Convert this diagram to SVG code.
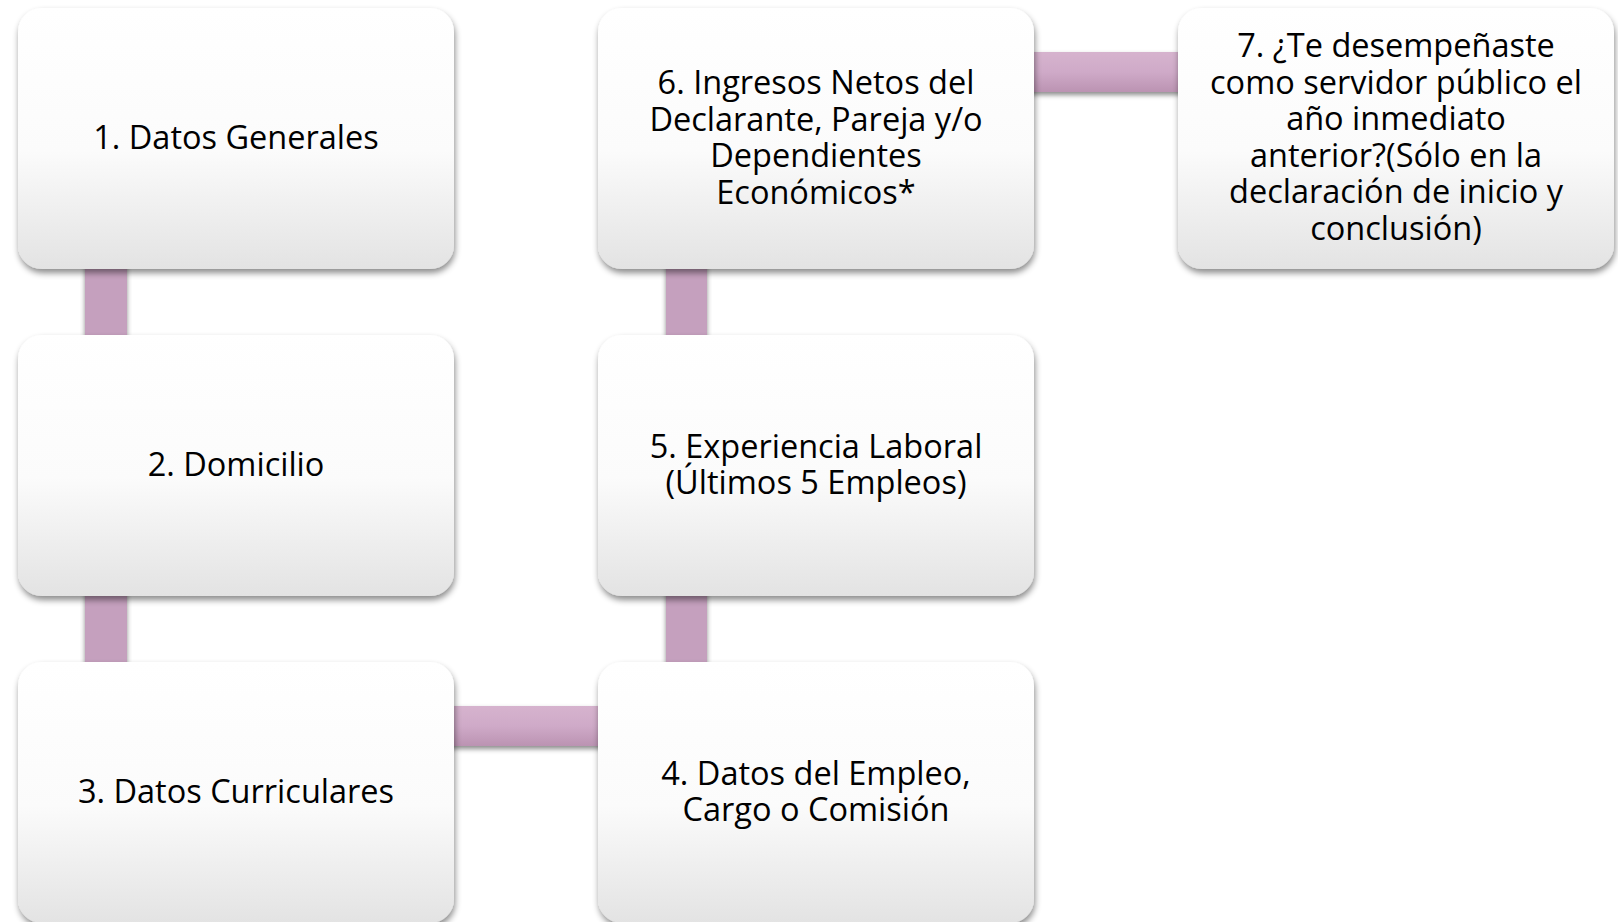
<svg xmlns="http://www.w3.org/2000/svg" width="1618" height="922" viewBox="0 0 1618 922">
<style>
.box{fill:url(#boxg);filter:url(#sh)}
.t{font-family:"Open Sans","Noto Sans","DejaVu Sans",sans-serif;font-size:32.5px;fill:#000;text-anchor:middle}
.v{fill:#c5a0be;filter:url(#sh2)}
.h{fill:url(#hg);filter:url(#sh2)}
</style>
<defs>
<linearGradient id="boxg" x1="0" y1="0" x2="0" y2="1">
<stop offset="0" stop-color="#ffffff"/>
<stop offset="0.55" stop-color="#fbfbfb"/>
<stop offset="1" stop-color="#e3e3e3"/>
</linearGradient>
<linearGradient id="hg" x1="0" y1="0" x2="0" y2="1">
<stop offset="0" stop-color="#d6b3ce"/>
<stop offset="0.5" stop-color="#cfaac8"/>
<stop offset="1" stop-color="#bb93b2"/>
</linearGradient>
<filter id="sh" x="-10%" y="-10%" width="120%" height="125%">
<feDropShadow dx="1" dy="4" stdDeviation="3" flood-color="#000" flood-opacity="0.45"/>
</filter>
<filter id="sh2" x="-10%" y="-20%" width="120%" height="160%">
<feDropShadow dx="0" dy="3" stdDeviation="2.5" flood-color="#000" flood-opacity="0.45"/>
</filter>
</defs>
<g id="connectors">
<rect class="v" x="85" y="262" width="42" height="80"/>
<rect class="v" x="85" y="589" width="42" height="80"/>
<rect class="h" x="446" y="706" width="160" height="40"/>
<rect class="v" x="666" y="589" width="41" height="80"/>
<rect class="v" x="666" y="262" width="41" height="80"/>
<rect class="h" x="1026" y="52" width="160" height="40"/>
</g>
<g id="node1">
<rect class="box" x="18" y="8" width="436" height="261" rx="24"/>
<text class="t" x="236" y="149">1. Datos Generales</text>
</g>
<g id="node2">
<rect class="box" x="18" y="335" width="436" height="261" rx="24"/>
<text class="t" x="236" y="476">2. Domicilio</text>
</g>
<g id="node3">
<rect class="box" x="18" y="662" width="436" height="261" rx="24"/>
<text class="t" x="236" y="803">3. Datos Curriculares</text>
</g>
<g id="node4">
<rect class="box" x="598" y="662" width="436" height="261" rx="24"/>
<text class="t" x="816" y="785">4. Datos del Empleo,<tspan x="816" dy="36">Cargo o Comisión</tspan></text>
</g>
<g id="node5">
<rect class="box" x="598" y="335" width="436" height="261" rx="24"/>
<text class="t" x="816" y="458">5. Experiencia Laboral<tspan x="816" dy="36">(Últimos 5 Empleos)</tspan></text>
</g>
<g id="node6">
<rect class="box" x="598" y="8" width="436" height="261" rx="24"/>
<text class="t" x="816" y="94">6. Ingresos Netos del<tspan x="816" dy="36.5">Declarante, Pareja y/o</tspan><tspan x="816" dy="36.5">Dependientes</tspan><tspan x="816" dy="36.5">Económicos*</tspan></text>
</g>
<g id="node7">
<rect class="box" x="1178" y="8" width="436" height="261" rx="24"/>
<text class="t" x="1396" y="57">7. ¿Te desempeñaste<tspan x="1396" dy="36.5">como servidor público el</tspan><tspan x="1396" dy="36.5">año inmediato</tspan><tspan x="1396" dy="36.5">anterior?(Sólo en la</tspan><tspan x="1396" dy="36.5">declaración de inicio y</tspan><tspan x="1396" dy="36.5">conclusión)</tspan></text>
</g>
</svg>
